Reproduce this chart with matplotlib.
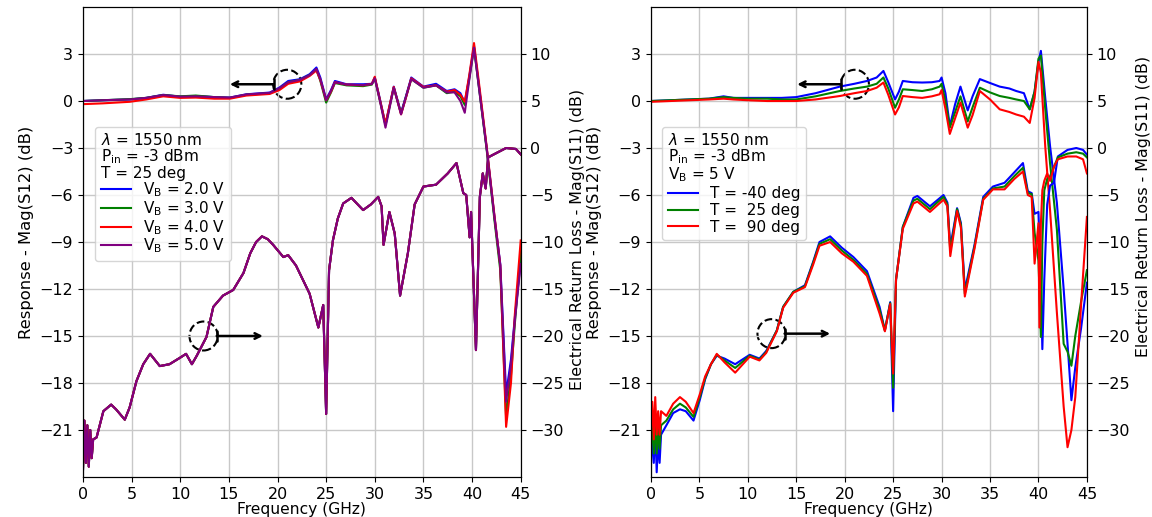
import numpy as np
import matplotlib
matplotlib.use("Agg")
import matplotlib.pyplot as plt
from matplotlib.patches import Ellipse

# ---- left panel: bias voltage sweep ----
f12_l = [0, 2, 4.8, 6.5, 8.25, 10, 11.6, 13.5, 15.1, 16.8, 19.2, 20.2, 21.1, 22.3, 23.3, 24.0,
         24.4, 25.0, 25.5, 25.9, 27.1, 28.8, 29.7, 30.0, 30.5, 31.1, 31.95, 32.7, 33.2, 33.75,
         35.0, 36.3, 37.4, 38.2, 38.8, 39.25, 39.7, 40.2, 40.8, 41.5, 42.3, 42.9, 43.5, 44.0, 44.4, 45]
s12_vb2 = [0.0, 0.05, 0.1, 0.2, 0.4, 0.28, 0.32, 0.25, 0.22, 0.43, 0.54, 0.86, 1.28, 1.39, 1.71, 2.14,
           1.5, 0.11, 0.7, 1.28, 1.07, 1.07, 1.1, 1.5, 0.2, -1.5, 0.92, -0.75, 0.3, 1.5,
           0.92, 1.1, 0.64, 0.75, 0.5, -0.1, 1.5, 3.5, 0.5, -3.0, -7.4, -10.4, -18.7, -16.5, -13.8, -10.2]
s12_vb3 = [0.0, 0.05, 0.12, 0.2, 0.38, 0.3, 0.35, 0.25, 0.2, 0.4, 0.5, 0.8, 1.2, 1.35, 1.65, 2.0,
           1.3, -0.1, 0.55, 1.15, 1.0, 0.95, 1.05, 1.45, 0.1, -1.55, 0.85, -0.8, 0.25, 1.4,
           0.85, 1.0, 0.5, 0.6, 0.3, -0.25, 1.4, 3.4, 0.4, -3.1, -7.6, -10.8, -20.2, -17.5, -14.2, -9.6]
s12_vb4 = [-0.2, -0.15, -0.05, 0.1, 0.3, 0.2, 0.22, 0.15, 0.15, 0.35, 0.45, 0.7, 1.1, 1.25, 1.6, 1.95,
           1.35, 0.05, 0.6, 1.2, 1.05, 1.0, 1.1, 1.55, 0.15, -1.45, 0.9, -0.85, 0.2, 1.45,
           0.9, 1.0, 0.6, 0.7, 0.4, -0.05, 1.6, 3.7, 0.7, -2.9, -7.3, -10.5, -20.8, -18.0, -13.6, -8.9]
s12_vb5 = [0.0, 0.05, 0.1, 0.2, 0.38, 0.28, 0.3, 0.25, 0.22, 0.42, 0.52, 0.82, 1.2, 1.35, 1.65, 2.05,
           1.4, 0.05, 0.65, 1.2, 1.05, 1.02, 1.08, 1.45, 0.1, -1.7, 0.85, -0.85, 0.25, 1.4,
           0.85, 1.0, 0.55, 0.55, 0.0, -0.75, 1.3, 3.4, 0.4, -3.0, -7.4, -10.5, -19.2, -16.8, -14.0, -10.4]

f11_l = [0, 0.15, 0.3, 0.45, 0.6, 0.75, 0.9, 1.05, 1.4, 2.1, 2.9, 3.4, 4.3, 4.8, 5.5, 6.2, 6.9,
         7.9, 8.9, 10.0, 10.6, 11.2, 11.7, 12.7, 13.4, 14.4, 15.45, 16.5, 17.2, 17.8, 18.4, 19.0,
         19.55, 20.6, 21.1, 21.9, 23.3, 24.2, 24.7, 25.0, 25.3, 25.7, 26.2, 26.75, 27.6, 28.8, 29.6,
         30.35, 30.7, 30.9, 31.5, 32.05, 32.6, 33.4, 34.1, 35.0, 36.3, 37.5, 38.4, 39.1, 39.4, 39.75,
         39.9, 40.4, 40.8, 41.1, 41.4, 41.65, 42.1, 43.5, 44.5, 45]
s11_vb = [-34.4, -29.0, -33.5, -29.5, -33.9, -30.0, -33.0, -31.0, -30.8, -28.0, -27.3, -27.8, -28.9,
          -27.6, -24.8, -23.0, -21.9, -23.2, -23.0, -22.3, -21.9, -23.0, -22.1, -20.1, -16.9, -15.7,
          -15.1, -13.3, -11.2, -10.0, -9.4, -9.7, -10.3, -11.6, -11.4, -12.5, -15.5, -19.1, -16.7,
          -28.3, -13.0, -9.8, -7.5, -5.9, -5.3, -6.6, -6.0, -5.2, -6.2, -10.3, -6.8, -9.1, -15.7,
          -11.2, -6.0, -4.1, -3.9, -2.7, -1.6, -4.8, -5.0, -9.5, -6.8, -21.5, -5.2, -2.7, -4.3,
          -1.0, -0.75, 0.0, -0.1, -0.67]

vb_labels = [r"V$_\mathrm{B}$ = 2.0 V", r"V$_\mathrm{B}$ = 3.0 V",
             r"V$_\mathrm{B}$ = 4.0 V", r"V$_\mathrm{B}$ = 5.0 V"]

# ---- right panel: temperature sweep ----
f12_r = [0, 2, 4, 6, 7.5, 8.5, 10, 12, 13.5, 15.0, 17, 19.5, 21, 22.3, 23.3, 24.0, 24.5, 25.2,
         25.6, 26.0, 27.0, 28.0, 29.0, 29.8, 30.0, 30.4, 30.85, 31.4, 31.95, 32.7, 33.2, 33.95,
         35.0, 36.0, 37.0, 37.7, 38.5, 39.1, 39.6, 40.0, 40.25, 40.7, 41.2, 41.9, 42.6, 43.0,
         43.4, 43.8, 44.4, 45]
s12_tm40 = [0.0, 0.05, 0.1, 0.15, 0.3, 0.2, 0.2, 0.2, 0.2, 0.25, 0.5, 0.92, 1.1, 1.28, 1.5, 1.92,
            1.2, 0.1, 0.6, 1.28, 1.2, 1.18, 1.2, 1.28, 1.5, 0.5, -1.6, -0.2, 0.92, -0.6, 0.3, 1.4,
            1.15, 0.92, 0.8, 0.64, 0.5, -0.53, 0.6, 2.5, 3.2, 0.2, -2.9, -6.5, -12.0, -15.5,
            -19.1, -17.0, -14.5, -11.6]
s12_t25 = [0.0, 0.05, 0.1, 0.15, 0.25, 0.2, 0.15, 0.15, 0.1, 0.1, 0.3, 0.64, 0.8, 0.92, 1.1, 1.5,
           0.8, -0.43, 0.1, 0.75, 0.7, 0.64, 0.75, 0.92, 1.1, 0.0, -1.7, -0.7, 0.3, -1.3, -0.4, 0.85,
           0.55, 0.32, 0.2, 0.1, 0.0, -0.53, 0.6, 2.7, 2.9, -0.5, -4.0, -8.2, -15.5, -16.0,
           -16.9, -15.0, -12.8, -10.8]
s12_t90 = [-0.05, 0.0, 0.05, 0.1, 0.15, 0.1, 0.05, 0.0, 0.0, 0.0, 0.1, 0.32, 0.5, 0.64, 0.85, 1.18,
           0.4, -0.86, -0.4, 0.32, 0.25, 0.2, 0.3, 0.43, 0.7, -0.5, -2.1, -1.1, -0.1, -1.7, -0.9, 0.64,
           0.1, -0.53, -0.7, -0.86, -1.0, -1.4, 0.2, 2.5, 1.8, -2.9, -7.0, -13.5, -19.5, -22.1,
           -21.0, -18.9, -13.0, -7.4]

f11_r = [0, 0.15, 0.3, 0.45, 0.6, 0.75, 0.9, 1.05, 1.6, 2.3, 3.0, 3.6, 4.4, 5.05, 5.6, 6.2, 6.8,
         7.6, 8.7, 10.2, 11.2, 11.9, 13.0, 13.65, 14.7, 15.9, 16.75, 17.4, 18.5, 19.7, 20.9, 22.3,
         23.6, 24.15, 24.7, 25.0, 25.3, 26.0, 27.1, 27.5, 28.8, 30.2, 30.6, 30.9, 31.6, 32.0, 32.4,
         33.4, 34.3, 35.3, 36.5, 37.5, 38.4, 38.9, 39.3, 39.6, 40.0, 40.1, 40.25, 40.4, 40.6, 40.9,
         41.2, 41.6, 42.0, 43.0, 43.9, 44.6, 45]
s11_tm40 = [-34.0, -30.0, -33.5, -29.5, -34.5, -31.0, -33.5, -30.5, -29.5, -28.2, -27.8, -28.0,
            -29.0, -26.8, -24.6, -23.0, -22.1, -22.4, -23.0, -22.0, -22.4, -21.6, -19.4, -16.9,
            -15.3, -14.6, -12.1, -10.0, -9.4, -10.6, -11.6, -13.1, -16.9, -19.4, -16.4, -28.0,
            -14.0, -8.4, -5.3, -5.1, -6.2, -5.0, -5.8, -10.5, -6.4, -8.0, -15.1, -10.3, -5.2, -4.1,
            -3.7, -2.6, -1.6, -4.6, -4.8, -7.0, -6.8, -10.0, -14.0, -21.4, -14.0, -6.0, -4.0, -3.7,
            -0.9, -0.2, 0.0, -0.2, -0.7]
s11_t25 = [-32.0, -29.0, -32.5, -28.5, -32.5, -29.5, -32.0, -29.5, -29.0, -27.8, -27.2, -27.6,
           -28.6, -26.5, -24.5, -23.0, -22.0, -22.6, -23.4, -22.1, -22.5, -21.7, -19.4, -16.9,
           -15.3, -14.7, -12.2, -10.2, -9.7, -10.9, -11.9, -13.4, -17.2, -19.4, -16.5, -25.5,
           -14.0, -8.4, -5.6, -5.4, -6.5, -5.2, -6.0, -11.0, -6.5, -8.2, -15.5, -10.5, -5.4, -4.3,
           -4.1, -3.0, -2.1, -4.8, -4.9, -9.0, -12.0, -15.0, -20.1, -10.0, -4.5, -3.3, -3.0, -2.0,
           -1.0, -0.6, -0.45, -0.6, -1.0]
s11_t90 = [-30.0, -27.0, -31.0, -26.5, -30.5, -28.0, -30.5, -28.0, -28.5, -27.2, -26.5, -27.0,
           -28.2, -26.2, -24.3, -23.0, -21.9, -22.8, -23.9, -22.2, -22.6, -21.8, -19.5, -17.0,
           -15.4, -14.8, -12.4, -10.4, -10.0, -11.2, -12.1, -13.6, -17.6, -19.5, -16.6, -24.0,
           -14.0, -8.6, -5.9, -5.7, -6.8, -5.5, -6.2, -11.5, -6.7, -8.5, -15.8, -10.7, -5.5, -4.4,
           -4.4, -3.3, -2.5, -5.0, -5.2, -12.3, -8.0, -19.1, -8.0, -4.5, -3.5, -2.7, -3.5, -2.0,
           -1.2, -0.9, -0.9, -1.2, -2.7]

t_labels = ["T = -40 deg", "T =  25 deg", "T =  90 deg"]

colors4 = ["blue", "green", "red", "purple"]
colors3 = ["blue", "green", "red"]

fig = plt.figure(figsize=(11.52, 5.17), dpi=100)
ax_l = fig.add_axes([0.072, 0.0774, 0.380, 0.909])
ax_r = fig.add_axes([0.565, 0.0774, 0.3785, 0.909])


def setup(ax, y_right):
    ax2 = ax.twinx()
    ax.set_xlim(0, 45)
    ax.set_ylim(-24, 6)
    ax2.set_ylim(-35, 15)
    ax.set_xticks(np.arange(0, 46, 5))
    ax.set_yticks(np.arange(-21, 4, 3))
    ax2.set_yticks(np.arange(-30, 11, 5))
    ax.grid(True, color="#c8c8c8", lw=1.0)
    ax.tick_params(labelsize=11.5)
    ax2.tick_params(labelsize=11.5)
    ax.set_xlabel("Frequency (GHz)", fontsize=11.2, labelpad=0)
    ax.set_ylabel("Response - Mag(S12) (dB)", fontsize=11.8)
    ax2.set_ylabel("Electrical Return Loss - Mag(S11) (dB)", fontsize=11.4)
    ax.yaxis.label.set_y(0.52)
    ax2.yaxis.label.set_y(y_right)
    return ax2


def marks(ax, up, low):
    # dashed circles + arrows pointing to the axis each trace belongs to
    ax.add_patch(Ellipse(up, 2.9, 1.85, fill=False, ls="--", lw=1.5, color="black"))
    ax.add_patch(Ellipse(low, 2.9, 1.85, fill=False, ls="--", lw=1.5, color="black"))
    ax.annotate("", xy=(15.1, up[1]), xytext=(up[0] - 1.4, up[1]),
                arrowprops=dict(arrowstyle="]->, widthA=0.35, lengthA=0", lw=1.8,
                                shrinkA=0, shrinkB=0, color="black"))
    ax.annotate("", xy=(18.5, low[1]), xytext=(low[0] + 1.35, low[1]),
                arrowprops=dict(arrowstyle="]->, widthA=0.35, lengthA=0", lw=1.8,
                                shrinkA=0, shrinkB=0, color="black"))


def add_legend(ax2, handles, title, x0, spacing):
    leg = ax2.legend(handles=handles, loc="upper left", bbox_to_anchor=(x0, 0.745),
                     borderaxespad=0, fontsize=11, title_fontsize=11, alignment="left",
                     title=title, handlelength=2.0, labelspacing=spacing, borderpad=0.35)
    leg.get_title().set_linespacing(0.95)
    return leg


ax2_l = setup(ax_l, 0.505)
handles = []
for s12, c, lab in zip([s12_vb2, s12_vb3, s12_vb4, s12_vb5], colors4, vb_labels):
    h, = ax_l.plot(f12_l, s12, color=c, lw=1.5, label=lab)
    handles.append(h)
for c in colors4:
    ax2_l.plot(f11_l, s11_vb, color=c, lw=1.5)
marks(ax_l, (21.0, 1.07), (12.4, -15.0))
add_legend(ax2_l, handles,
           "$\\lambda$ = 1550 nm\nP$_\\mathrm{in}$ = -3 dBm\nT = 25 deg", 0.028, 0.0)

ax2_r = setup(ax_r, 0.575)
handles = []
for s12, c, lab in zip([s12_tm40, s12_t25, s12_t90], colors3, t_labels):
    h, = ax_r.plot(f12_r, s12, color=c, lw=1.5, label=lab)
    handles.append(h)
for s11, c in zip([s11_tm40, s11_t25, s11_t90], colors3):
    ax2_r.plot(f11_r, s11, color=c, lw=1.5)
marks(ax_r, (21.05, 1.07), (12.45, -14.85))
add_legend(ax2_r, handles,
           "$\\lambda$ = 1550 nm\nP$_\\mathrm{in}$ = -3 dBm\nV$_\\mathrm{B}$ = 5 V", 0.026, 0.12)

fig.savefig("out.png", dpi=100)
